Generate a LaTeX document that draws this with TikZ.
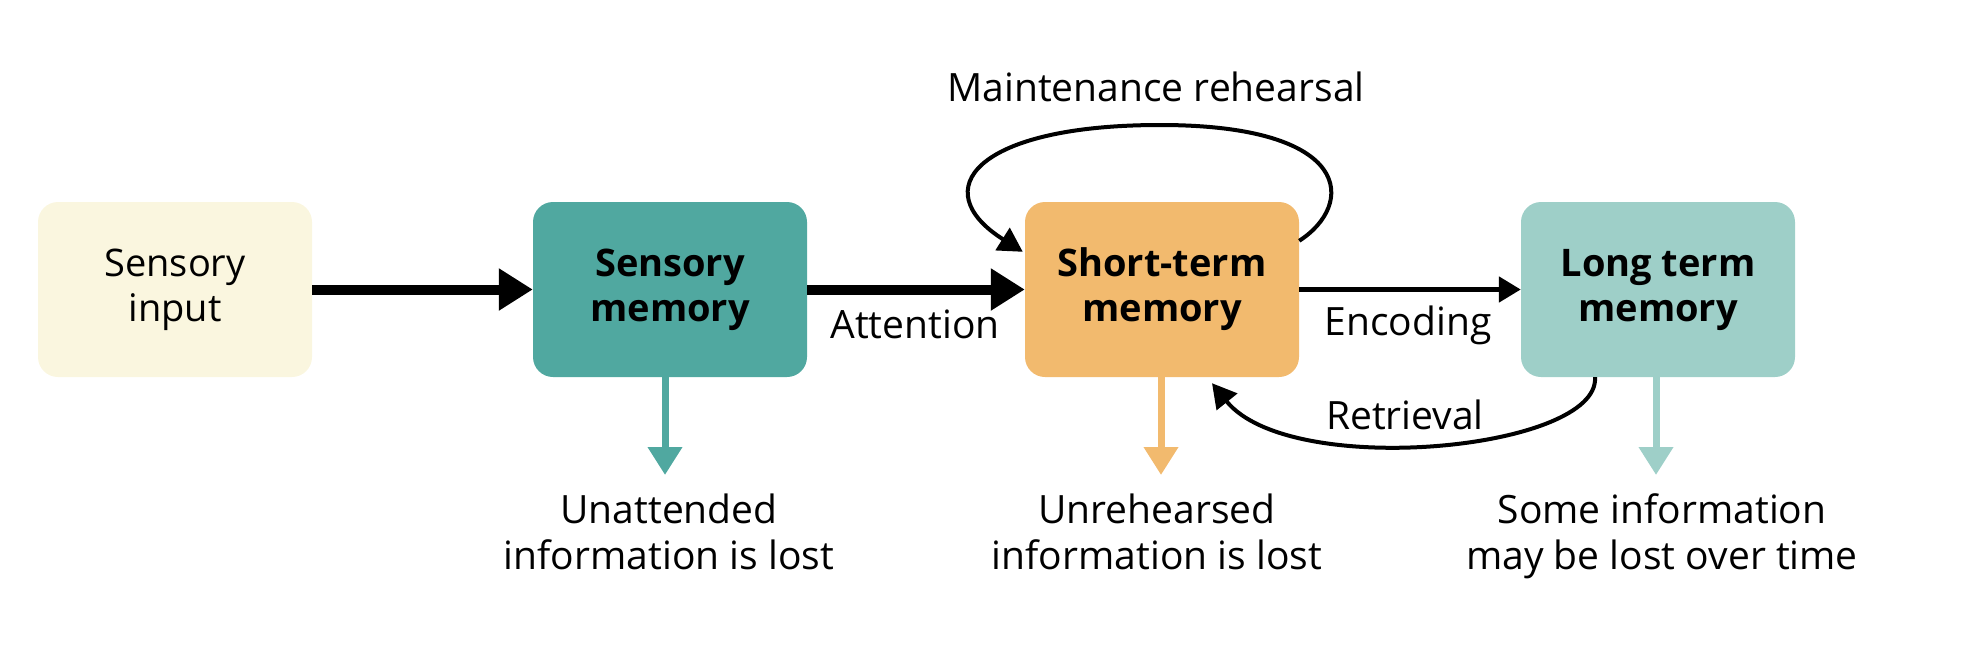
\documentclass[tikz,border=0pt]{standalone}
\usepackage{fontspec}
\setmainfont{Open Sans}[Ligatures=NoCommon]
\usetikzlibrary{arrows.meta,calc}
\definecolor{creamfill}{HTML}{FAF6DF}
\definecolor{tealdark}{HTML}{50A8A0}
\definecolor{orangefill}{HTML}{F2BA6E}
\definecolor{teallight}{HTML}{9ECFC8}
\begin{document}
\begin{tikzpicture}[x=1pt,y=-1pt,
  box/.style={rounded corners=20pt, minimum width=274pt, minimum height=175pt,
    align=center, inner sep=0pt, font=\fontsize{38}{45}\selectfont},
  boldbox/.style={box, font=\fontsize{38}{45}\selectfont\bfseries},
  lbl/.style={font=\fontsize{39}{46}\selectfont, align=center, inner sep=0pt},
  bigarrow/.style={line width=10pt, -{Triangle[length=34pt,width=40pt]}},
  midarrow/.style={line width=5pt, -{Triangle[length=22pt,width=25pt]}},
  curvearrow/.style={line width=4pt, -{Triangle[length=24pt,width=26pt]}},
  lossarrow/.style={line width=7pt, -{Triangle[length=28pt,width=33pt]}},
]
\useasboundingbox (0,0) rectangle (1962,648);

\node[box, fill=creamfill] (si) at (175,289.5) {Sensory\\input};
\node[boldbox, fill=tealdark] (sm) at (670,289.5) {Sensory\\memory};
\node[boldbox, fill=orangefill] (stm) at (1162,289.5) {Short-term\\memory};
\node[boldbox, fill=teallight] (ltm) at (1658,289.5) {Long term\\memory};

\draw[bigarrow] (si.east) -- (sm.west);
\draw[bigarrow] (sm.east) -- (stm.west);
\draw[midarrow] (stm.east) -- (ltm.west);

\node[lbl] (att) at (915,324) {Attention};
\node[lbl] (enc) at (1408,325) {Encoding};

% maintenance rehearsal loop
\draw[curvearrow] ([yshift=-39pt]stm.north east)
  .. controls (1355,205) and (1355,125) .. (1160,125)
  .. controls (975,125) and (925,190) .. ([shift={(-2pt,-50pt)}]stm.north west);
\node[lbl] (mr) at (1156,87) {Maintenance rehearsal};

% retrieval
\draw[curvearrow] ([xshift=-63pt]ltm.south)
  .. controls (1600,450) and (1290,480) .. ([shift={(50pt,-6pt)}]stm.south);
\node[lbl] (ret) at (1405,415) {Retrieval};

% loss arrows
\coordinate (smloss) at (665,475);
\coordinate (stmloss) at (1161,475);
\coordinate (ltmloss) at (1656,475);
\draw[lossarrow, tealdark] (sm.south -| smloss) -- (smloss);
\draw[lossarrow, orangefill] (stm.south -| stmloss) -- (stmloss);
\draw[lossarrow, teallight] (ltm.south -| ltmloss) -- (ltmloss);

\node[lbl, anchor=base] (l1) at (669,569) {Unattended\\information is lost};
\node[lbl, anchor=base] (l2) at (1157,569) {Unrehearsed\\information is lost};
\node[lbl, anchor=base] (l3) at (1662,569) {Some information\\may be lost over time};
\end{tikzpicture}
\end{document}
